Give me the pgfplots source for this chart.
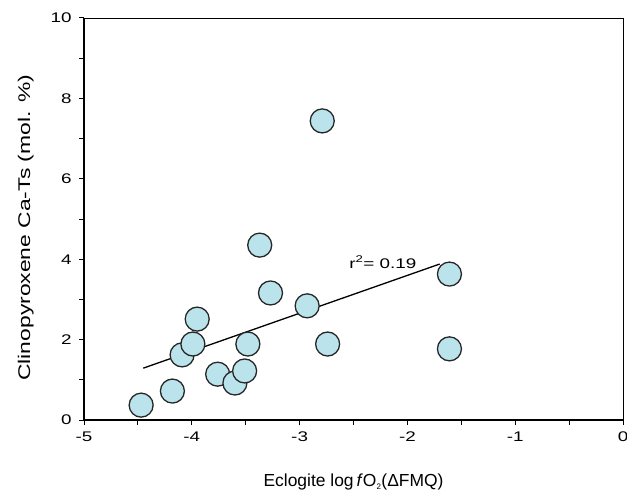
\documentclass[border=0pt]{standalone}
\usepackage{fontspec}
\setmainfont{Liberation Sans}
\newfontfamily\wide[FakeStretch=1.35]{Liberation Sans}
\usepackage{pgfplots}
\pgfplotsset{compat=1.18}
\definecolor{ptfill}{RGB}{186,227,235}
\begin{document}
\begin{tikzpicture}
\begin{axis}[
  name=ax,
  scale only axis,
  width=539bp, height=402bp,
  xmin=-5, xmax=0, ymin=0, ymax=10,
  xtick={-5,-4,-3,-2,-1,0},
  ytick={0,2,4,6,8,10},
  minor xtick={-4.5,-3.5,-2.5,-1.5,-0.5},
  minor ytick={1,3,5,7,9},
  tick align=outside,
  xtick pos=bottom, ytick pos=left,
  major tick length=5bp, minor tick length=5bp,
  every tick/.style={black, line width=1bp},
  axis line style={line width=0.8bp},
  /pgf/number format/assume math mode=true,
  tick label style={font=\wide\fontsize{14}{16}\selectfont},
  xticklabel style={yshift=-3bp},
  yticklabel style={xshift=-4bp},
  xlabel={Eclogite log\,\textit{f}O\textsubscript{\fontsize{8}{8}\selectfont 2}(ΔFMQ)},
  ylabel={{\wide Clinopyroxene Ca-Ts (mol. \%)}},
  xlabel style={font=\fontsize{17.5}{19}\selectfont, at={(axis description cs:0.5,-0.154)}, anchor=center},
  ylabel style={font=\fontsize{17}{19}\selectfont, at={(axis description cs:-0.108,0.478)}, anchor=center},
  clip=false,
]
\draw[line width=2bp] (axis description cs:0,1) -- (axis description cs:0,0) -- (axis description cs:1,0);
\addplot[black, line width=1.3bp] coordinates {(-4.45,1.29) (-1.70,3.88)};
\addplot[only marks, mark=*, mark size=12bp,
  mark options={fill=ptfill, draw=black!85, line width=1.3bp}] coordinates {
(-4.47,0.37)
(-4.18,0.72)
(-4.09,1.62)
(-3.99,1.89)
(-3.95,2.51)
(-3.76,1.14)
(-3.60,0.92)
(-3.51,1.22)
(-3.48,1.89)
(-3.37,4.35)
(-3.27,3.16)
(-2.93,2.84)
(-2.79,7.44)
(-2.74,1.89)
(-1.61,3.63)
(-1.61,1.77)
};
\node[anchor=base west, font=\wide\fontsize{14}{16}\selectfont, inner sep=0pt] at (axis cs:-2.54,3.78) {r\textsuperscript{2}= 0.19};
\end{axis}
\pgfresetboundingbox
\path[use as bounding box] ([shift={(-84bp,-74bp)}]ax.south west) rectangle ([shift={(4bp,18bp)}]ax.north east);
\end{tikzpicture}
\end{document}
